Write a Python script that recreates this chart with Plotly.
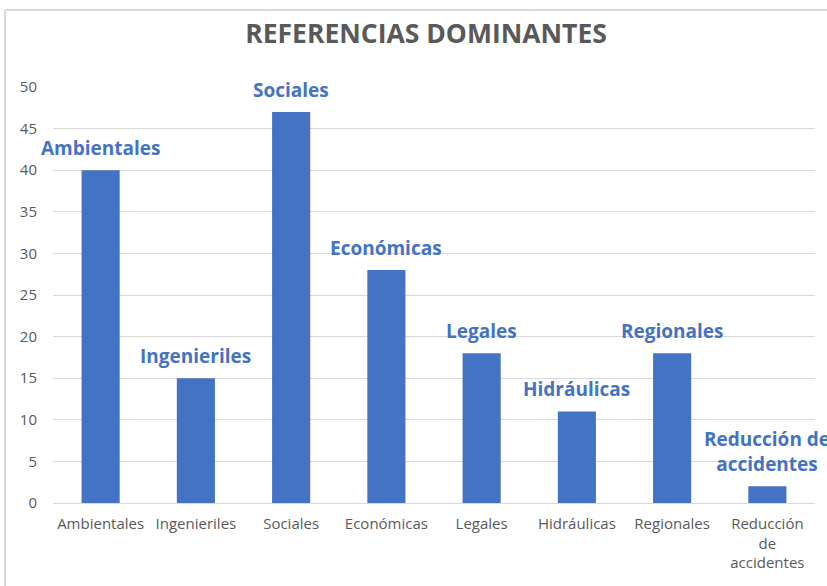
import plotly.graph_objects as go

categories = ["Ambientales", "Ingenieriles", "Sociales", "Económicas", "Legales",
              "Hidráulicas", "Regionales", "Reducción de accidentes"]
values = [40, 15, 47, 28, 18, 11, 18, 2]
tick_labels = ["Ambientales", "Ingenieriles", "Sociales", "Económicas", "Legales",
               "Hidráulicas", "Regionales", "Reducción<br>de<br>accidentes"]
data_labels = ["Ambientales", "Ingenieriles", "Sociales", "Económicas", "Legales",
               "Hidráulicas", "Regionales", "Reducción de<br>accidentes"]
y_ticks = [0, 5, 10, 15, 20, 25, 30, 35, 40, 45, 50]

BLUE = "#4472C4"
GREY = "#595959"
FONT = "Open Sans"

fig = go.Figure(go.Bar(x=categories, y=values, marker=dict(color=BLUE, line=dict(width=0)),
                       hoverinfo="skip"))

for c, v, lab in zip(categories, values, data_labels):
    fig.add_annotation(x=c, y=v, text=lab, showarrow=False, xanchor="center", yanchor="bottom",
                       yshift=7, font=dict(family=FONT, size=19, color=BLUE, weight="bold"))

W, H = 827, 586
L, R, T, B = 53, 12, 87, 83
pw, ph = W - L - R, H - T - B
def px(x):
    return (x - L) / pw
def py(y):
    return 1 - (y - T) / ph

# chart border (top and left visible)
fig.add_shape(type="line", xref="paper", yref="paper", x0=px(5), x1=px(830), y0=py(10), y1=py(10),
              line=dict(color="#D9D9D9", width=2))
fig.add_shape(type="line", xref="paper", yref="paper", x0=px(5), x1=px(5), y0=py(10), y1=py(590),
              line=dict(color="#D9D9D9", width=2))

fig.update_layout(
    width=W, height=H,
    margin=dict(l=L, r=R, t=T, b=B, autoexpand=False),
    paper_bgcolor="white", plot_bgcolor="white",
    showlegend=False,
    bargap=0.6,
    title=dict(text="<b>REFERENCIAS DOMINANTES</b>", x=426 / W, xanchor="center", y=1 - 34 / H,
               yanchor="middle", font=dict(family=FONT, size=26.5, color=GREY)),
    xaxis=dict(tickmode="array", tickvals=categories, ticktext=tick_labels, showgrid=False,
               range=[-0.5, len(categories) - 0.5],
               showline=False, ticks="", tickfont=dict(family=FONT, size=15, color=GREY),
               ticklabelstandoff=10, automargin=False, fixedrange=True),
    yaxis=dict(range=[0, 50], tickvals=y_ticks, showgrid=True, gridcolor="#D9D9D9", gridwidth=1,
               zeroline=True, zerolinecolor="#D9D9D9", zerolinewidth=1, showline=False,
               ticks="", tickfont=dict(family=FONT, size=15, color=GREY), ticklabelstandoff=15,
               automargin=False, fixedrange=True),
)

fig.write_html("out.html", config={"displayModeBar": False},
               post_script="document.body.style.margin='0';document.body.style.overflow='hidden';")
